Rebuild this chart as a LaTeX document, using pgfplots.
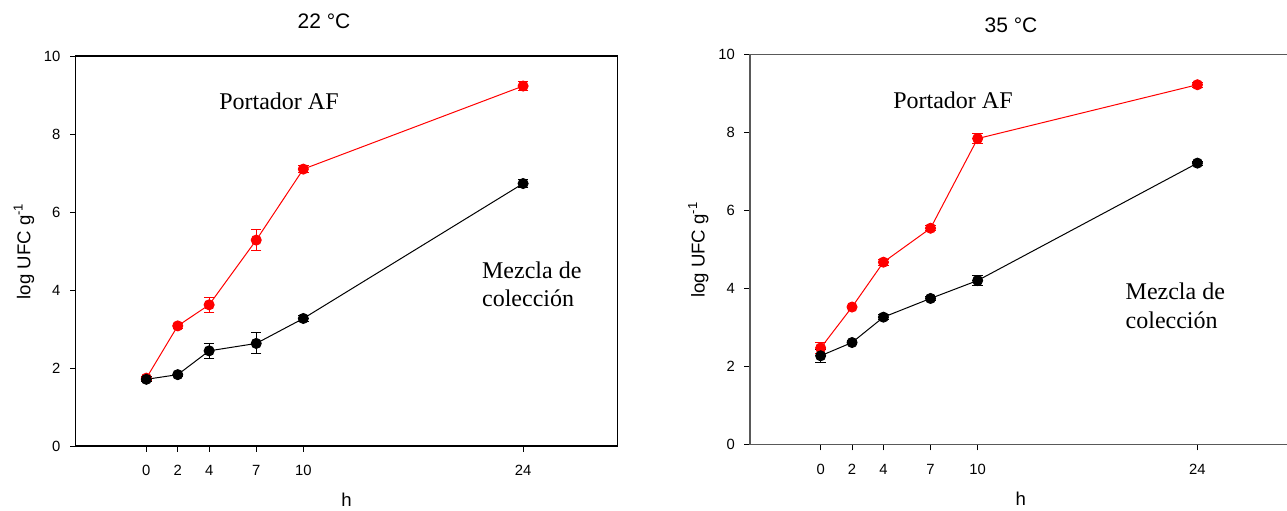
\documentclass[border=0pt]{standalone}
\usepackage{fontspec}
\setmainfont{Liberation Sans}
\newfontfamily\tnr{Liberation Serif}
\usepackage{pgfplots}
\pgfplotsset{compat=1.18}
\pgfplotsset{
  myax/.style={
    scale only axis, width=270.8pt, height=195pt,
    xmin=-4.5, xmax=30, ymin=0, ymax=10,
    xtick={0,2,4,7,10,24}, ytick={0,2,...,10},
    tick align=outside, xtick pos=bottom, ytick pos=left,
    major tick length=2.8pt,
    tick label style={font=\fontsize{7.4}{8}\selectfont},
    /pgf/number format/assume math mode=true,
    every tick/.style={line width=0.5pt, black},
    xticklabel shift=3.3pt, yticklabel shift=1.3pt,
    every axis x label/.style={at={(axis description cs:0.5,-0.138)}, anchor=center, font=\fontsize{9.3}{10}\selectfont},
    every axis y label/.style={at={(axis description cs:-0.0955,0.5)}, rotate=90, anchor=center, font=\fontsize{9.3}{10}\selectfont},
    xlabel={h}, ylabel={log UFC g\textsuperscript{-1}},
    clip=false,
  },
  redser/.style={color=red, line width=0.5pt, mark=*, mark size=2.5pt, mark options={solid, fill=red},
    error bars/.cd, y dir=both, y explicit, error bar style={line width=0.5pt}, error mark options={rotate=90, mark size=2.6pt, line width=0.5pt, red}},
  blkser/.style={color=black, line width=0.5pt, mark=*, mark size=2.5pt, mark options={solid, fill=black},
    error bars/.cd, y dir=both, y explicit, error bar style={line width=0.5pt}, error mark options={rotate=90, mark size=2.6pt, line width=0.5pt, black}},
}
\begin{document}
\begin{tikzpicture}
\path[use as bounding box] (0,0) rectangle (643.5pt,-255pt);
% ---------------- 22 C ----------------
\node[font=\fontsize{10.5}{12}\selectfont] at (162pt,-10.85pt) {22 °C};
\begin{axis}[myax, at={(37.85pt,-223pt)}, anchor=south west, axis line style={line width=0.6pt, black}]
\addplot[redser] table[x=h, y=m, y error=e] {
h m e
0 1.74 0.05
2 3.08 0.06
4 3.62 0.20
7 5.28 0.27
10 7.10 0.085
24 9.23 0.115
};
\addplot[blkser] table[x=h, y=m, y error=e] {
h m e
0 1.71 0.06
2 1.83 0.04
4 2.44 0.20
7 2.63 0.27
10 3.27 0.08
24 6.73 0.10
};
\node[font=\tnr\fontsize{12}{14}\selectfont] at (axis cs:8.45,8.85) {Portador AF};
\node[font=\tnr\fontsize{12}{14}\selectfont, align=left, anchor=west] at (axis cs:20.94,4.15) {Mezcla de\\colección};
\end{axis}
% ---------------- 35 C ----------------
\node[font=\fontsize{10.5}{12}\selectfont] at (505.5pt,-12.5pt) {35 °C};
\begin{axis}[myax, at={(375pt,-222.35pt)}, anchor=south west, axis line style={line width=0.6pt, black!65}]
\addplot[redser] table[x=h, y=m, y error=e] {
h m e
0 2.48 0.15
2 3.53 0.05
4 4.68 0.08
7 5.55 0.06
10 7.85 0.12
24 9.23 0.07
};
\addplot[blkser] table[x=h, y=m, y error=e] {
h m e
0 2.28 0.17
2 2.62 0.04
4 3.27 0.07
7 3.75 0.04
10 4.21 0.13
24 7.22 0.05
};
\node[font=\tnr\fontsize{12}{14}\selectfont] at (axis cs:8.43,8.82) {Portador AF};
\node[font=\tnr\fontsize{12}{14.5}\selectfont, align=left, anchor=west] at (axis cs:18.98,3.55) {Mezcla de\\colección};
\end{axis}
\end{tikzpicture}
\end{document}
